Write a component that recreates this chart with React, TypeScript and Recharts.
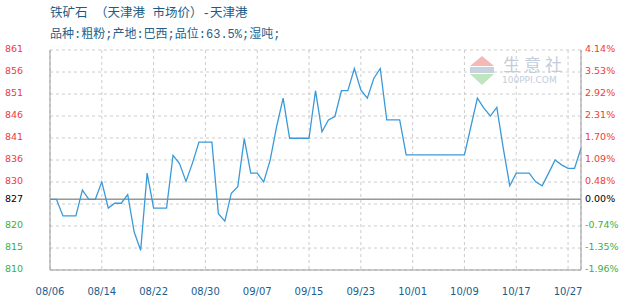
import { LineChart, Line, XAxis, YAxis, CartesianGrid, ReferenceLine } from "recharts";

const dates = [
  "08/06", "08/07", "08/08", "08/09", "08/10", "08/11", "08/12", "08/13", "08/14", "08/15",
  "08/16", "08/17", "08/18", "08/19", "08/20", "08/21", "08/22", "08/23", "08/24", "08/25",
  "08/26", "08/27", "08/28", "08/29", "08/30", "08/31",
  "09/01", "09/02", "09/03", "09/04", "09/05", "09/06", "09/07", "09/08", "09/09", "09/10",
  "09/11", "09/12", "09/13", "09/14", "09/15", "09/16", "09/17", "09/18", "09/19", "09/20",
  "09/21", "09/22", "09/23", "09/24", "09/25", "09/26", "09/27", "09/28", "09/29", "09/30",
  "10/01", "10/02", "10/03", "10/04", "10/05", "10/06", "10/07", "10/08", "10/09", "10/10",
  "10/11", "10/12", "10/13", "10/14", "10/15", "10/16", "10/17", "10/18", "10/19",
  "10/22", "10/23", "10/24", "10/25", "10/26", "10/27", "10/28", "10/29",
];

const prices = [
  827, 827, 823.2, 823.2, 823.2, 829.1, 827, 827, 831.0, 825.0,
  826.1, 826.1, 828.1, 819.5, 815.3, 833.0, 825.0, 825.0, 825.0, 837.1,
  835.2, 831.1, 835.3, 840.1, 840.1, 840.1, 823.7, 822.0, 828.4, 829.9,
  840.9, 833.0, 833.0, 831.0, 836.0, 843.7, 850.2, 841.0, 841.0, 841.0,
  841.0, 851.9, 842.5, 845.2, 846.0, 851.9, 851.9, 857.0, 852.1, 850.2,
  854.7, 857.0, 845.2, 845.2, 845.2, 837.2, 837.2, 837.2, 837.2, 837.2,
  837.2, 837.2, 837.2, 837.2, 837.2, 843.7, 850.2, 847.9, 846.1, 848.1,
  838.7, 830.1, 833.0, 833.0, 833.0, 831.0, 830.1, 833.0, 836.0, 834.9,
  834.1, 834.1, 838.7,
];

const xTicks = ["08/06", "08/14", "08/22", "08/30", "09/07", "09/15", "09/23", "10/01", "10/09", "10/17", "10/27"];

const basePrice = 827;
const pctTicks = [-1.96, -1.35, -0.74, -0.13, 0, 0.48, 1.09, 1.7, 2.31, 2.92, 3.53, 4.14];
const pctLabels = ["-1.96%", "-1.35%", "-0.74%", "", "0.00%", "0.48%", "1.09%", "1.70%", "2.31%", "2.92%", "3.53%", "4.14%"];
const priceLabels = ["810", "815", "820", "", "827", "830", "836", "841", "846", "851", "856", "861"];

const data = dates.map((d, i) => ({ d, v: prices[i] }));
const priceTicks = pctTicks.map((p) => basePrice * (1 + p / 100));

const RED = "#ee3b3b";
const GREEN = "#3cb03c";
const BLUE_TXT = "#1a5e8e";
const FONT = "'DejaVu Sans', Verdana, sans-serif";
const TITLE_FONT = "'Liberation Mono', 'Noto Sans CJK SC', monospace";

function colorFor(p: number) {
  if (p > 0) return RED;
  if (p < 0) return GREEN;
  return "#000";
}

function LeftTick(props: any) {
  const { y, payload } = props;
  const k = priceTicks.findIndex((t) => Math.abs(t - payload.value) < 1e-6);
  if (k < 0 || !priceLabels[k]) return null;
  return (
    <text x={5} y={y - 1} dy="0.35em" textAnchor="start" fontSize={9.5} fontFamily={FONT} fill={colorFor(pctTicks[k])}>
      {priceLabels[k]}
    </text>
  );
}

function RightTick(props: any) {
  const { y, payload } = props;
  const k = pctTicks.findIndex((t) => Math.abs(t - payload.value) < 1e-6);
  if (k < 0 || !pctLabels[k]) return null;
  return (
    <text x={585} y={y - 1} dy="0.35em" textAnchor="start" fontSize={9.5} fontFamily={FONT} fill={colorFor(pctTicks[k])}>
      {pctLabels[k]}
    </text>
  );
}

function BottomTick(props: any) {
  const { x, payload } = props;
  return (
    <text x={x} y={291} dy="0.35em" textAnchor="middle" fontSize={10} fontFamily={FONT} fill={BLUE_TXT}>
      {payload.value}
    </text>
  );
}

export default function App() {
  return (
    <div style={{ position: "absolute", left: 0, top: 0, width: 630, height: 300, background: "#fff" }}>
      {/* title */}
      <div style={{ position: "absolute", left: 50, top: 6, fontSize: 12.5, lineHeight: "16px", color: "#1e5b82", fontFamily: TITLE_FONT, whiteSpace: "pre" }}>
        铁矿石 （天津港 市场价）-天津港
      </div>
      <div style={{ position: "absolute", left: 50, top: 27, fontSize: 12, lineHeight: "16px", color: "#26618a", fontFamily: TITLE_FONT, whiteSpace: "pre" }}>
        品种:粗粉;产地:巴西;品位:63.5%;湿吨;
      </div>

      <LineChart width={630} height={300} data={data} margin={{ top: 50, right: 0, bottom: 0, left: 0 }}>
        <CartesianGrid yAxisId="r" stroke="#cccccc" strokeDasharray="3 3" />
        <XAxis
          dataKey="d"
          ticks={xTicks}
          interval={0}
          height={30}
          tickLine={false}
          axisLine={{ stroke: "#999" }}
          tick={<BottomTick />}
        />
        <XAxis xAxisId="top" orientation="top" dataKey="d" height={0} tick={false} tickLine={false} axisLine={{ stroke: "#999" }} />
        <YAxis
          yAxisId="l"
          width={50}
          type="number"
          domain={[priceTicks[0], priceTicks[priceTicks.length - 1]]}
          ticks={priceTicks}
          interval={0}
          allowDataOverflow
          tickLine={false}
          axisLine={{ stroke: "#999" }}
          tick={<LeftTick />}
        />
        <YAxis
          yAxisId="r"
          orientation="right"
          width={49}
          type="number"
          domain={[pctTicks[0], pctTicks[pctTicks.length - 1]]}
          ticks={pctTicks}
          interval={0}
          allowDataOverflow
          tickLine={false}
          axisLine={{ stroke: "#999" }}
          tick={<RightTick />}
        />
        <ReferenceLine yAxisId="r" y={0} stroke="#999" strokeWidth={1.5} />
        <Line
          yAxisId="l"
          type="linear"
          dataKey="v"
          stroke="#3a9ad9"
          strokeWidth={1.3}
          dot={false}
          isAnimationActive={false}
        />
      </LineChart>

      {/* watermark */}
      <div style={{ position: "absolute", left: 469, top: 55, width: 100, height: 32, pointerEvents: "none" }}>
        <svg width={28} height={32} style={{ position: "absolute", left: 0, top: 0 }}>
          <polygon points="1,11 13,1 25,11" fill="#f4b8b8" />
          <rect x={1} y={12} width={24} height={6} fill="#c8d2de" />
          <polygon points="1,19 25,19 13,30" fill="#bfe5bf" />
        </svg>
        <div style={{ position: "absolute", left: 34, top: 0, fontSize: 17, lineHeight: "18px", letterSpacing: 4, color: "#c3cdda", fontFamily: "'Noto Sans CJK SC', sans-serif" }}>
          生意社
        </div>
        <div style={{ position: "absolute", left: 33, top: 20, fontSize: 9, lineHeight: "11px", color: "#c3cdda", fontFamily: FONT }}>
          100PPI.COM
        </div>
      </div>
    </div>
  );
}
